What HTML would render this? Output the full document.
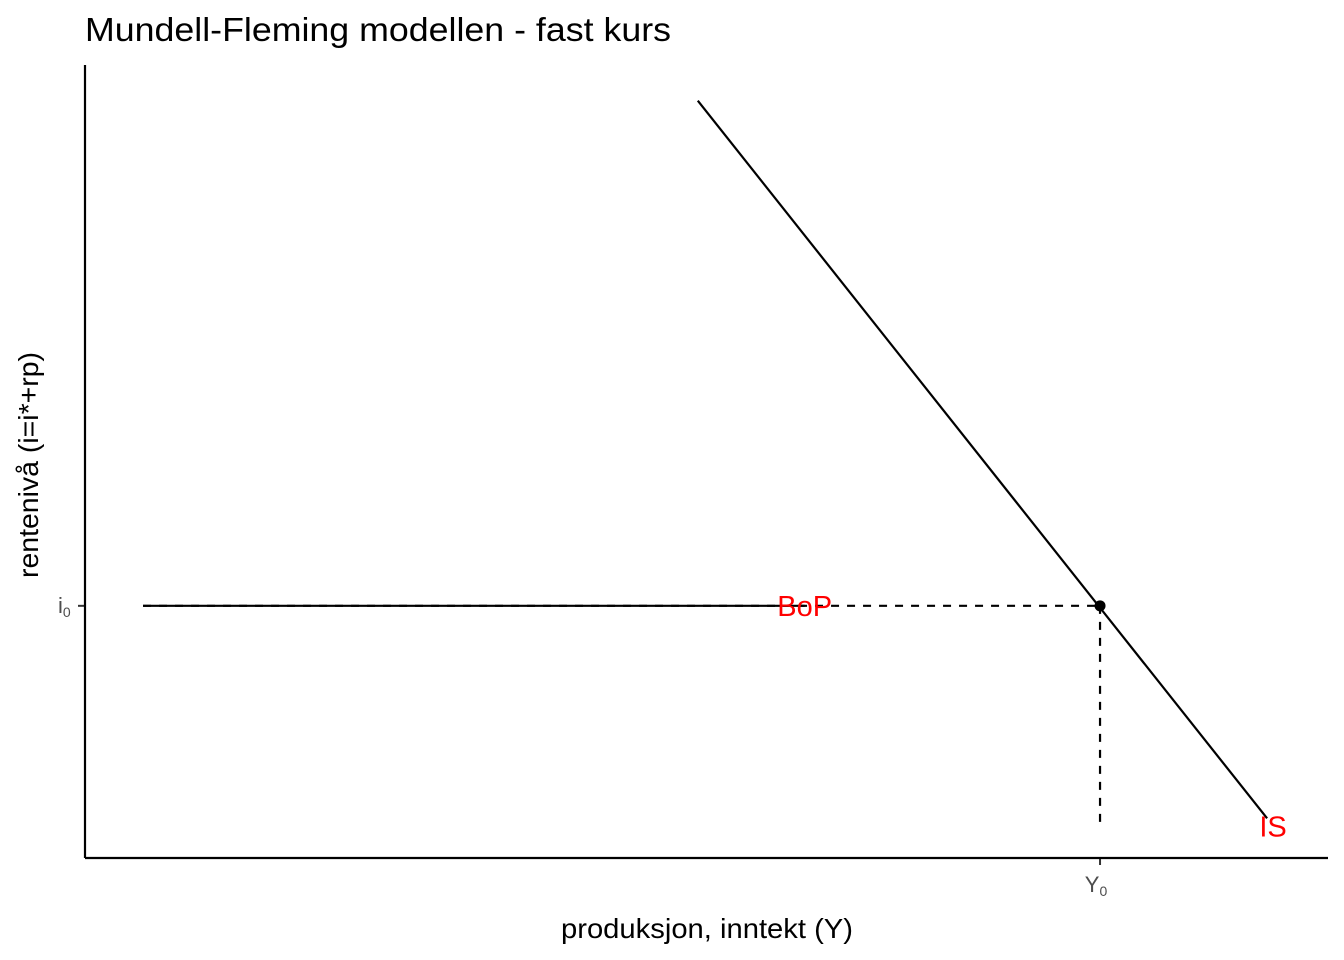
<!DOCTYPE html>
<html><head><meta charset="utf-8"><style>
body{margin:0;background:#fff;}
svg{display:block;font-family:"Liberation Sans",sans-serif;}
</style></head><body>
<svg id="chart" width="1344" height="960" viewBox="0 0 1344 960">
<text x="85" y="41" font-size="33" textLength="586" lengthAdjust="spacingAndGlyphs" fill="#000">Mundell-Fleming modellen - fast kurs</text>
<g id="plot"></g>
<line x1="85" y1="65" x2="85" y2="858" stroke="#000" stroke-width="2.2"/>
<line x1="85" y1="858" x2="1328" y2="858" stroke="#000" stroke-width="2.2"/>
<text x="561" y="938" font-size="28" textLength="292" lengthAdjust="spacingAndGlyphs">produksjon, inntekt (Y)</text>
<text transform="translate(38,578) rotate(-90)" font-size="28" textLength="226" lengthAdjust="spacingAndGlyphs">rentenivå (i=i*+rp)</text>
</svg>
<script>
const isX = [49.3, 95.1];
const isY = [95.5, 5.0];
const bopX = [4.67, 57.9];
const eqX = [81.66];
const eqY = [31.8];
const guideBottom = [4.2];
const xTickLabels = ["Y"];
const yTickLabels = ["i"];

const sx = v => 85 + v * 12.43;
const sy = v => 858 - v * 7.93;
const NS = "http://www.w3.org/2000/svg";
const g = document.getElementById('plot');
function mk(tag, attrs){const e=document.createElementNS(NS,tag);for(const k in attrs)e.setAttribute(k,attrs[k]);g.appendChild(e);return e;}

let e;
e = mk('line',{x1:sx(bopX[0]),y1:sy(eqY[0]),x2:sx(eqX[0]),y2:sy(eqY[0]),stroke:'#000','stroke-width':2.2,'stroke-dasharray':'8,8'});


e = mk('line',{x1:sx(eqX[0]),y1:sy(eqY[0]),x2:sx(eqX[0]),y2:sy(guideBottom[0]),stroke:'#000','stroke-width':2.2,'stroke-dasharray':'8,8'});


e = mk('line',{x1:sx(bopX[0]),y1:sy(eqY[0]),x2:sx(bopX[1]),y2:sy(eqY[0]),stroke:'#000','stroke-width':2.2});


e = mk('line',{x1:sx(isX[0]),y1:sy(isY[0]),x2:sx(isX[1]),y2:sy(isY[1]),stroke:'#000','stroke-width':2.2});


e = mk('circle',{cx:sx(eqX[0]),cy:sy(eqY[0]),r:5.5,fill:'#000'});


e = mk('text',{x:sx(bopX[1]),y:sy(eqY[0])+10,'font-size':29,fill:'#ff0000','text-anchor':'middle'});
e.textContent='BoP';


e = mk('text',{x:sx(isX[1])+6,y:sy(isY[1])+18,'font-size':29,fill:'#ff0000','text-anchor':'middle'});
e.textContent='IS';


e = mk('line',{x1:sx(eqX[0]),y1:858,x2:sx(eqX[0]),y2:865,stroke:'#333','stroke-width':2});


e = mk('text',{x:sx(eqX[0])-4,y:892,'font-size':22,fill:'#4d4d4d','text-anchor':'middle'});
e.innerHTML = xTickLabels[0] + '<tspan font-size="14" dy="4">0</tspan>';


e = mk('line',{x1:78,y1:sy(eqY[0]),x2:85,y2:sy(eqY[0]),stroke:'#333','stroke-width':2});


e = mk('text',{x:58,y:sy(eqY[0])+7,'font-size':22,fill:'#4d4d4d'});
e.innerHTML = yTickLabels[0] + '<tspan font-size="14" dy="4">0</tspan>';


</script>
</body></html>
